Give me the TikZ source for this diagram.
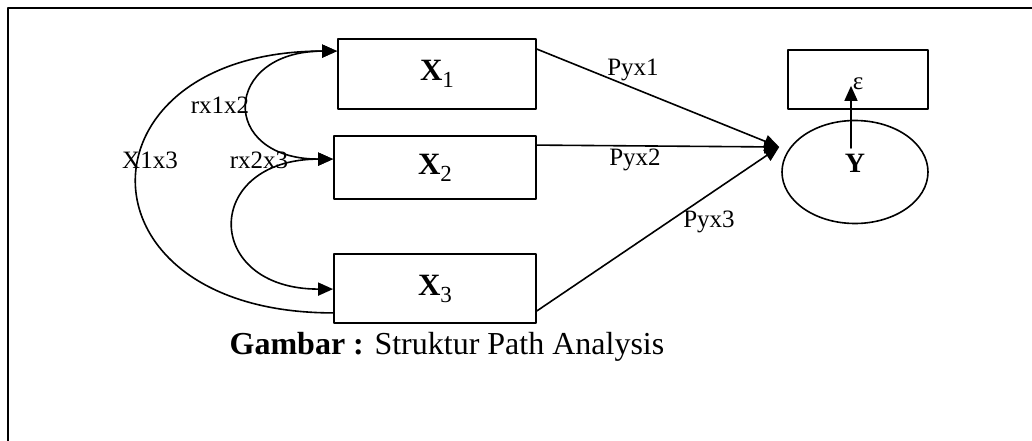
\documentclass[tikz,border=0pt]{standalone}
\usepackage{fontspec}
\setmainfont{Liberation Serif}
\usetikzlibrary{arrows.meta, shapes.geometric}
\newcommand{\xlab}[1]{{\fontsize{31}{31}\selectfont\bfseries X}\raisebox{-7pt}{\fontsize{23}{23}\selectfont #1}}

\begin{document}
\begin{tikzpicture}[x=1pt, y=-1pt, >={Triangle[length=15pt,width=13pt]}, line cap=round, line join=round,
	varbox/.style={draw, line width=1.8pt, inner sep=0pt},
	conn/.style={line width=1.6pt},
	plabel/.style={font=\fontsize{25}{25}\selectfont}]
	
	\useasboundingbox (0,0) rectangle (1032,441);
	
	% ===== frame =====
	\draw[line width=2.8pt, line cap=butt] (8,441) -- (8,8) -- (1032,8);
	
	% ===== exogenous variables =====
	\node[varbox, minimum width=198pt, minimum height=70pt] (X1) at (437,74) {\xlab{1}};
	\node[varbox, minimum width=202pt, minimum height=63pt] (X2) at (435,167.5) {\xlab{2}};
	\node[varbox, minimum width=202pt, minimum height=69pt] (X3) at (435,288.5) {\xlab{3}};
	
	% ===== endogenous variable and residual =====
	\node[draw, ellipse, line width=1.6pt, minimum width=146pt, minimum height=103pt,
	label={[font=\fontsize{28}{28}\selectfont\bfseries, yshift=9pt]center:Y}] (Y) at (855,172) {};
	\node[varbox, minimum width=140pt, minimum height=59pt,
	label={[font=\fontsize{25}{25}\selectfont, yshift=-4pt]center:ε}] (E) at (858,79.5) {};
	\draw[conn,->] ([shift={(-4,-24)}]Y.center) -- ([shift={(-7,-24)}]E.south);
	
	% path coefficients
	\coordinate (Yin) at ([shift={(-2,-25)}]Y.west);
	\draw[conn,->] ([shift={(0,11)}]X1.north east) -- (Yin);
	\draw[conn,->] ([shift={(0,10)}]X2.north east) -- (Yin);
	\draw[conn,->] ([shift={(0,-13)}]X3.south east) -- (Yin);
	\node[plabel] (p1) at (633,70) {Pyx1};
	\node[plabel] (p2) at (635,160) {Pyx2};
	\node[plabel] (p3) at (709,222) {Pyx3};
	
	% correlations between the X's
	\draw[conn,<->] ([shift={(0,13)}]X1.north west) .. controls +(-115,0) and +(-115,0) .. ([shift={(0,24)}]X2.north west);
	\draw[conn,<->] ([shift={(0,24)}]X2.north west) .. controls +(-131,0) and +(-131,0) .. ([shift={(0,36)}]X3.north west);
	\draw[conn,->] ([shift={(0,-11)}]X3.south west) .. controls +(-264,0) and +(-264,0) .. ([shift={(0,13)}]X1.north west);
	\node[plabel] (r12) at (220,105) {rx1x2};
	\node[plabel] (r23) at (259,160) {rx2x3};
	\node[plabel] (r13) at (150,160) {X1x3};
	
	% caption
	\node[font=\fontsize{32}{32}\selectfont] (cap) at (447,347) {\textbf{Gambar :} Struktur Path Analysis};
	
\end{tikzpicture}
\end{document}
